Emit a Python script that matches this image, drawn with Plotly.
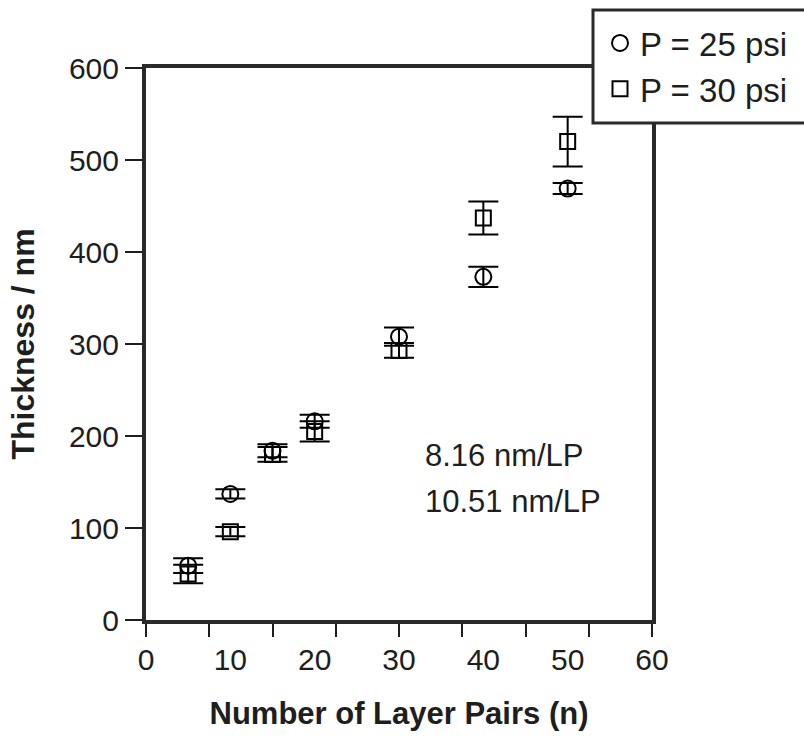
import plotly.graph_objects as go

layer_pairs = [5, 10, 15, 20, 30, 40, 50]
thick_25 = [59, 137, 184, 216, 308, 373, 469]
err_25 = [8, 5, 7, 7, 10, 11, 6]
thick_30 = [50, 96, 180, 205, 293, 437, 520]
err_30 = [10, 5, 8, 11, 8, 18, 27]

x_labels = [0, 10, 20, 30, 40, 50, 60]
x_minor = [0, 7.5, 15, 22.5, 30, 37.5, 45, 52.5, 60]
y_ticks = [0, 100, 200, 300, 400, 500, 600]

FONT = "Liberation Sans, Arial, sans-serif"
INK = "#1e1e1e"

fig = go.Figure()
fig.add_trace(go.Scatter(
    x=layer_pairs, y=thick_25, mode="markers", name="P = 25 psi",
    marker=dict(symbol="circle-open", size=16, color="black", line=dict(width=2)),
    error_y=dict(type="data", array=err_25, color="black", thickness=2, width=15),
))
fig.add_trace(go.Scatter(
    x=layer_pairs, y=thick_30, mode="markers", name="P = 30 psi",
    marker=dict(symbol="square-open", size=15, color="black", line=dict(width=2)),
    error_y=dict(type="data", array=err_30, color="black", thickness=2, width=15),
))

fig.update_layout(
    width=804, height=747,
    margin=dict(l=146, r=152, t=68, b=127, autoexpand=False),
    paper_bgcolor="white", plot_bgcolor="white",
    font=dict(family=FONT, color=INK, size=30),
    showlegend=True,
    legend=dict(
        x=(600 - 146) / 506, y=(620 - 15) / 552, xanchor="left", yanchor="top",
        bgcolor="rgba(0,0,0,0)", borderwidth=0,
        font=dict(family=FONT, size=33, color=INK),
        itemwidth=30, tracegroupgap=0,
    ),
    xaxis=dict(
        range=[0, 60], tickmode="array", tickvals=x_labels, ticks="",
        showgrid=False, zeroline=False,
        showline=True, linewidth=4, linecolor="#2a2a2a", mirror=True,
        tickfont=dict(family=FONT, size=30, color=INK),
        ticklabelstandoff=10,
        minor=dict(tickmode="array", tickvals=x_minor, ticks="outside",
                   ticklen=13, tickwidth=1.5, tickcolor=INK, showgrid=False),
        title=dict(text="<b>Number of Layer Pairs (n)</b>",
                   font=dict(family=FONT, size=31, color=INK), standoff=28),
    ),
    yaxis=dict(
        range=[0, 600], tickmode="array", tickvals=y_ticks,
        ticks="outside", ticklen=17, tickwidth=1.5, tickcolor=INK,
        showgrid=False, zeroline=False,
        showline=True, linewidth=4, linecolor="#2a2a2a", mirror=True,
        tickfont=dict(family=FONT, size=30, color=INK),
        ticklabelstandoff=0,
        title=dict(text="<b>Thickness / nm</b>",
                   font=dict(family=FONT, size=32, color=INK), standoff=26),
    ),
    shapes=[dict(
        type="rect", xref="paper", yref="paper", layer="above",
        x0=(593 - 146) / 506, x1=1.4, y0=(620 - 123) / 552, y1=(620 - 10) / 552,
        line=dict(color="#2a2a2a", width=3), fillcolor="white",
    )],
    annotations=[
        dict(x=32.8, y=179, xref="x", yref="y", text="8.16 nm/LP", showarrow=False,
             xanchor="left", yanchor="middle", font=dict(family=FONT, size=31, color=INK)),
        dict(x=32.8, y=129, xref="x", yref="y", text="10.51 nm/LP", showarrow=False,
             xanchor="left", yanchor="middle", font=dict(family=FONT, size=31, color=INK)),
    ],
)

fig.write_html("out.html")
